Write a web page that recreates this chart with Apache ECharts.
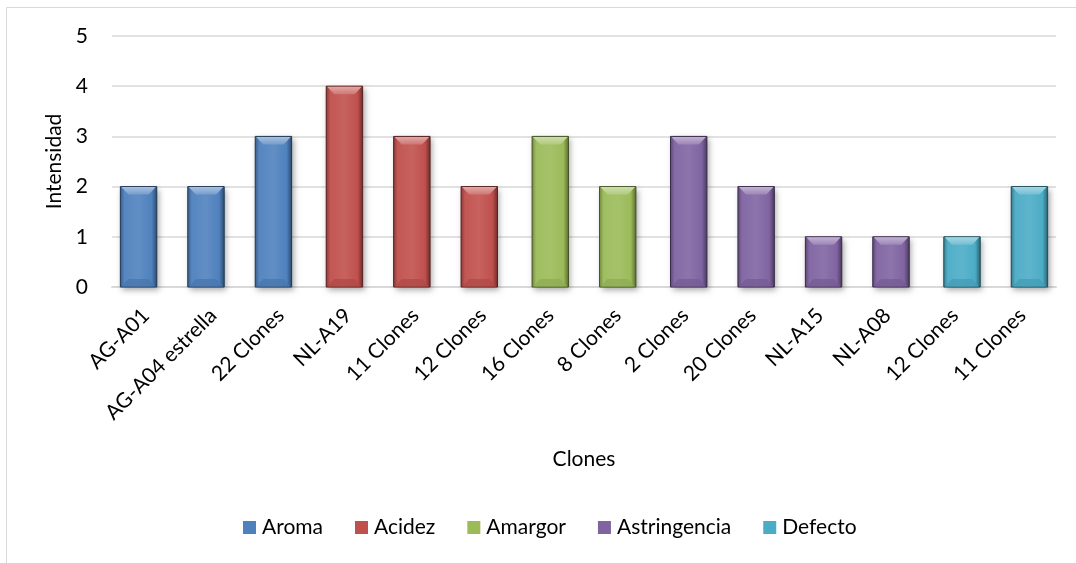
<!DOCTYPE html>
<html>
<head>
<meta charset="utf-8">
<title>Intensidad por clon</title>
<script src="https://cdn.jsdelivr.net/npm/echarts@6/dist/echarts.min.js"></script>
<style>
  html, body { margin: 0; padding: 0; background: #ffffff; }
  #chart { width: 1076px; height: 563px; }
</style>
</head>
<body>
<div id="chart"></div>
<script>
// Clones evaluated (x axis), in display order
const categories = [
  'AG-A01', 'AG-A04 estrella', '22 Clones', 'NL-A19', '11 Clones', '12 Clones',
  '16 Clones', '8 Clones', '2 Clones', '20 Clones', 'NL-A15', 'NL-A08',
  '12 Clones', '11 Clones'
];

// Attribute intensity per clone; null where the attribute was not scored
const aroma        = [2, 2, 3, null, null, null, null, null, null, null, null, null, null, null];
const acidez       = [null, null, null, 4, 3, 2, null, null, null, null, null, null, null, null];
const amargor      = [null, null, null, null, null, null, 3, 2, null, null, null, null, null, null];
const astringencia = [null, null, null, null, null, null, null, null, 3, 2, 1, 1, null, null];
const defecto      = [null, null, null, null, null, null, null, null, null, null, null, null, 1, 2];

const seriesNames = ['Aroma', 'Acidez', 'Amargor', 'Astringencia', 'Defecto'];
const seriesValues = [aroma, acidez, amargor, astringencia, defecto];
const yTicks = [0, 1, 2, 3, 4, 5];

const palette = ['#4F81BD', '#C0504D', '#9BBB59', '#8064A2', '#4BACC6'];

function shade(hex, amt) {
  const n = parseInt(hex.slice(1), 16);
  let r = (n >> 16) & 255, g = (n >> 8) & 255, b = n & 255;
  const f = c => amt >= 0 ? Math.round(c + (255 - c) * amt) : Math.round(c * (1 + amt));
  return 'rgb(' + f(r) + ',' + f(g) + ',' + f(b) + ')';
}

const FONT = 'Lato, "Open Sans", sans-serif';
const TEXT = '#000000';

// Bevelled column: each series is slightly shifted inside its category slot
function makeRenderer(sIdx) {
  const base = palette[sIdx];
  return function (params, api) {
    const cat = api.value(0);
    const val = api.value(1);
    const top = api.coord([cat, val]);
    const bottom = api.coord([cat, 0]);
    const slot = api.size([1, 0])[0];
    const w = slot * 0.54;
    const cx = top[0] + (sIdx - 2) * slot * 0.053;
    const x0 = cx - w / 2, x1 = cx + w / 2;
    const y0 = top[1], y1 = bottom[1];
    const h = y1 - y0;
    const b = Math.min(8, h / 4);
    return {
      type: 'group',
      children: [
        {
          type: 'rect',
          shape: { x: x0, y: y0, width: w, height: h },
          style: {
            fill: base,
            shadowBlur: 6, shadowOffsetX: 2, shadowOffsetY: 3,
            shadowColor: 'rgba(0,0,0,0.35)'
          }
        },
        {
          type: 'rect',
          shape: { x: x0, y: y0, width: w, height: h },
          style: {
            fill: new echarts.graphic.LinearGradient(0, 0, 1, 0, [
              { offset: 0, color: shade(base, -0.3) },
              { offset: 0.12, color: shade(base, 0.04) },
              { offset: 0.5, color: shade(base, 0.1) },
              { offset: 0.85, color: shade(base, 0) },
              { offset: 1, color: shade(base, -0.45) }
            ]),
            stroke: shade(base, -0.55), lineWidth: 1
          }
        },
        {
          type: 'polygon',
          shape: { points: [[x0 + 1, y0 + 0.5], [x1 - 1, y0 + 0.5], [x1 - b, y0 + b], [x0 + b, y0 + b]] },
          style: {
            fill: new echarts.graphic.LinearGradient(0, 0, 0, 1, [
              { offset: 0, color: shade(base, 0.5) },
              { offset: 1, color: shade(base, 0.22) }
            ])
          }
        },
        {
          type: 'polygon',
          shape: { points: [[x0 + 1, y1 - 0.5], [x1 - 1, y1 - 0.5], [x1 - b, y1 - b], [x0 + b, y1 - b]] },
          style: { fill: shade(base, -0.08), opacity: 0.8 }
        }
      ]
    };
  };
}

const series = seriesNames.map(function (name, sIdx) {
  const data = [];
  seriesValues[sIdx].forEach(function (v, i) {
    if (v !== null) data.push([i, v]);
  });
  return {
    name: name,
    type: 'custom',
    renderItem: makeRenderer(sIdx),
    encode: { x: 0, y: 1 },
    itemStyle: { color: palette[sIdx] },
    data: data
  };
});

const chart = echarts.init(document.getElementById('chart'), null, { renderer: 'canvas' });
chart.setOption({
  animation: false,
  color: palette,
  backgroundColor: '#ffffff',
  textStyle: { fontFamily: FONT, color: TEXT },
  graphic: [{
    type: 'rect',
    shape: { x: 6.5, y: 7.5, width: 1200, height: 800 },
    style: { fill: 'none', stroke: '#d9d9d9', lineWidth: 1 },
    silent: true, z: -10
  }],
  grid: { left: 112, right: 20, top: 36, bottom: 276, containLabel: false },
  legend: {
    bottom: 20,
    left: 238,
    itemWidth: 13,
    itemHeight: 13,
    itemGap: 32,
    icon: 'rect',
    textStyle: { fontFamily: FONT, fontSize: 21, color: TEXT, padding: [0, 0, 0, 1] },
    data: seriesNames
  },
  xAxis: {
    type: 'category',
    data: categories,
    name: 'Clones',
    nameLocation: 'middle',
    nameGap: 162,
    nameTextStyle: { fontFamily: FONT, fontSize: 21, color: TEXT },
    axisLine: { show: true, lineStyle: { color: '#d9d9d9', width: 2 } },
    axisTick: { show: false },
    axisLabel: {
      interval: 0,
      rotate: 45,
      margin: 25,
      fontFamily: FONT, fontSize: 21, color: TEXT
    },
    splitLine: { show: false }
  },
  yAxis: {
    type: 'value',
    min: yTicks[0],
    max: yTicks[yTicks.length - 1],
    interval: 1,
    name: 'Intensidad',
    nameLocation: 'middle',
    nameGap: 45,
    nameRotate: 90,
    nameTextStyle: { fontFamily: FONT, fontSize: 21, color: TEXT },
    axisLine: { show: false },
    axisTick: { show: false },
    axisLabel: { margin: 24, fontFamily: FONT, fontSize: 21, color: TEXT },
    splitLine: { lineStyle: { color: '#d9d9d9', width: 1.5 } }
  },
  series: series
});
</script>
</body>
</html>
